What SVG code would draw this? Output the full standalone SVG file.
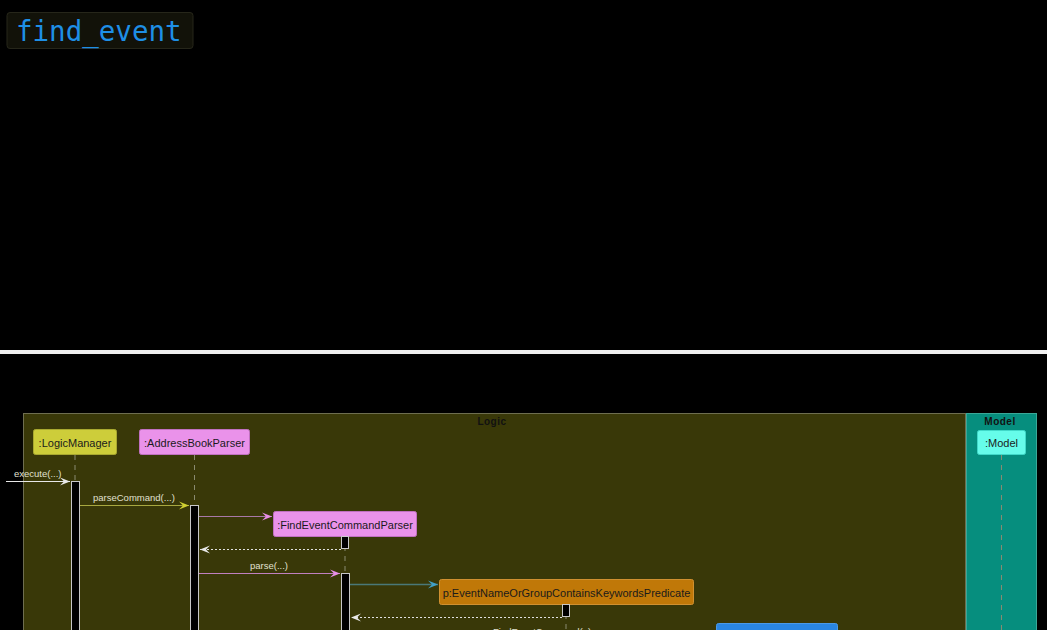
<svg xmlns="http://www.w3.org/2000/svg" width="1047" height="630" viewBox="0 0 1047 630">
<defs>
<style>
.part{font-family:"Liberation Sans",Arial,sans-serif;font-size:11px;fill:#1a1a1a}
.lbl{font-family:"Liberation Sans",Arial,sans-serif;font-size:9.5px;fill:#e0e0d0}
.frame{font-family:"Liberation Sans",Arial,sans-serif;font-size:10px;font-weight:bold;fill:#111}
.life{stroke:#8a8a70;stroke-width:1;stroke-dasharray:5 5;fill:none}
.act{fill:#000;stroke:#c8c8c8;stroke-width:1}
.ret{stroke:#e0e0e0;stroke-width:1;stroke-dasharray:2 2;fill:none}
</style>
<marker id="aw" markerWidth="12" markerHeight="10" refX="10" refY="5" orient="auto" markerUnits="userSpaceOnUse"><polygon points="0,1 10,5 0,9 4,5" fill="#e8e8e8"/></marker>
<marker id="ay" markerWidth="12" markerHeight="10" refX="10" refY="5" orient="auto" markerUnits="userSpaceOnUse"><polygon points="0,1 10,5 0,9 4,5" fill="#d0d030"/></marker>
<marker id="ap" markerWidth="12" markerHeight="10" refX="10" refY="5" orient="auto" markerUnits="userSpaceOnUse"><polygon points="0,1 10,5 0,9 4,5" fill="#e88ee8"/></marker>
<marker id="ab" markerWidth="12" markerHeight="10" refX="10" refY="5" orient="auto" markerUnits="userSpaceOnUse"><polygon points="0,1 10,5 0,9 4,5" fill="#40a0c8"/></marker>
</defs>
<rect width="1047" height="630" fill="#000"/>
<g id="title">
<rect x="7" y="12.5" width="186" height="36" rx="3" fill="#121209" stroke="#26261a" stroke-width="1"/>
<text x="16" y="41" font-family="'DejaVu Sans Mono',monospace" font-size="27.5" fill="#1e8fe6">find_event</text>
</g>
<rect x="0" y="350" width="1047" height="4" fill="#f0f0f0"/>
<g id="frame-logic">
<rect x="23.5" y="413.5" width="942" height="230" fill="#393808" stroke="#6e6e50" stroke-width="1"/>
<text class="frame" x="492" y="425" text-anchor="middle" letter-spacing="0.5">Logic</text>
</g>
<g id="frame-model">
<rect x="966.5" y="413.5" width="70" height="230" fill="#068e7e" stroke="#3aa898" stroke-width="1"/>
<text class="frame" x="1000" y="425" text-anchor="middle" letter-spacing="0.5">Model</text>
</g>
<g id="lifelines">
<line class="life" x1="75" y1="455" x2="75" y2="481"/>
<line class="life" x1="194.5" y1="455" x2="194.5" y2="505"/>
<line class="life" x1="345" y1="536" x2="345" y2="573"/>
<line class="life" x1="566" y1="604" x2="566" y2="640"/>
<line class="life" x1="1001.5" y1="455" x2="1001.5" y2="640"/>
</g>
<g id="LogicManager">
<rect x="33.5" y="429.5" width="83" height="25" rx="2" fill="#cdcd3a" stroke="#a8a830" stroke-width="1"/>
<text class="part" x="75" y="446.5" text-anchor="middle">:LogicManager</text>
<rect class="act" x="71.5" y="481.5" width="8" height="160"/>
</g>
<g id="AddressBookParser">
<rect x="139.5" y="429.5" width="110" height="25" rx="2" fill="#ea92ea" stroke="#c070c0" stroke-width="1"/>
<text class="part" x="194.5" y="446.5" text-anchor="middle">:AddressBookParser</text>
<rect class="act" x="190.5" y="505.5" width="8" height="140"/>
</g>
<g id="FindEventCommandParser">
<rect x="273.5" y="511.5" width="143" height="25" rx="2" fill="#ea92ea" stroke="#c070c0" stroke-width="1"/>
<text class="part" x="345" y="528.5" text-anchor="middle">:FindEventCommandParser</text>
<rect class="act" x="341.5" y="536.5" width="7" height="12"/>
<rect class="act" x="341.5" y="573.5" width="8" height="70"/>
</g>
<g id="Predicate">
<rect x="439.5" y="579.5" width="254" height="25" rx="2" fill="#c07808" stroke="#d09030" stroke-width="1"/>
<text class="part" x="566.5" y="596.5" text-anchor="middle">p:EventNameOrGroupContainsKeywordsPredicate</text>
<rect class="act" x="562.5" y="604.5" width="7" height="12"/>
</g>
<g id="FindEventCommand">
<rect x="716.5" y="623.5" width="121" height="25" rx="2" fill="#2a86e2" stroke="#4a9ae8" stroke-width="1"/>
</g>
<g id="Model">
<rect x="977.5" y="430.5" width="48" height="24" rx="2" fill="#66fcea" stroke="#40d8c8" stroke-width="1"/>
<text class="part" x="1001.5" y="446.5" text-anchor="middle">:Model</text>
</g>
<g id="connectors">
<line x1="6" y1="481.5" x2="70" y2="481.5" stroke="#e8e8e8" stroke-width="1" marker-end="url(#aw)"/>
<text class="lbl" x="14" y="477">execute(...)</text>
<line x1="80" y1="505.5" x2="189" y2="505.5" stroke="#a8a840" stroke-width="1" marker-end="url(#ay)"/>
<text class="lbl" x="93" y="500.5">parseCommand(...)</text>
<line x1="199" y1="516.5" x2="272" y2="516.5" stroke="#a878a8" stroke-width="1" marker-end="url(#ap)"/>
<line class="ret" x1="341" y1="549.5" x2="200" y2="549.5" marker-end="url(#aw)"/>
<line x1="199" y1="573.5" x2="340" y2="573.5" stroke="#c080c0" stroke-width="1" marker-end="url(#ap)"/>
<text class="lbl" x="250" y="569">parse(...)</text>
<line x1="350" y1="584.5" x2="438" y2="584.5" stroke="#4a7878" stroke-width="1.5" marker-end="url(#ab)"/>
<line class="ret" x1="562" y1="617.5" x2="351" y2="617.5" marker-end="url(#aw)"/>
<text class="lbl" x="493" y="635">FindEventCommand(p)</text>
</g>
</svg>
